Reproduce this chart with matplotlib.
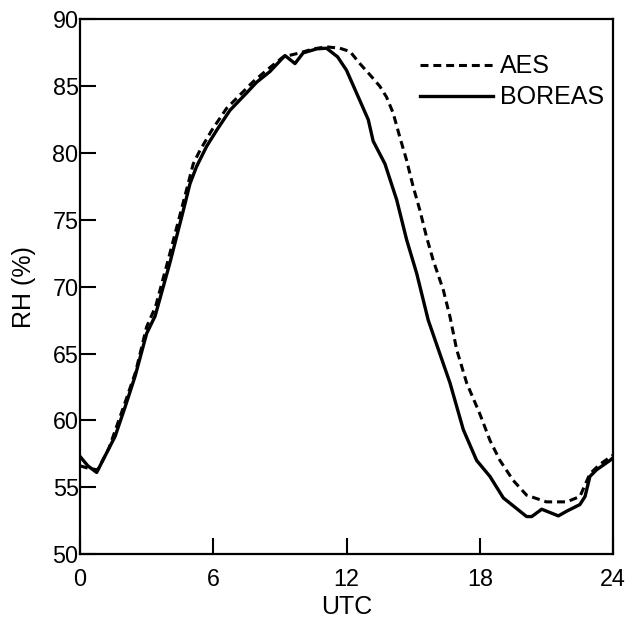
import matplotlib.pyplot as plt

plt.rcParams['font.family'] = ['Liberation Sans', 'DejaVu Sans']

# BOREAS (solid) - hours UTC and RH (%)
boreas_t = [0.0, 0.35, 0.75, 1.27, 1.58, 2.03, 2.48, 3.0, 3.38, 4.05, 4.65, 4.95,
            5.25, 5.7, 6.15, 6.75, 7.5, 7.95, 8.55, 9.23, 9.68, 10.05, 10.66, 11.1,
            11.6, 12.0, 12.53, 12.98, 13.2, 13.73, 14.26, 14.71, 15.16, 15.68,
            16.2, 16.66, 17.26, 17.86, 18.46, 19.06, 19.66, 20.11, 20.34, 20.79,
            21.54, 21.91, 22.51, 22.74, 22.96, 23.26, 23.86, 24.0]
boreas_rh = [57.3, 56.6, 56.1, 57.8, 58.8, 61.0, 63.3, 66.5, 67.8, 71.8, 75.7, 77.7,
             79.0, 80.5, 81.7, 83.2, 84.5, 85.3, 86.1, 87.3, 86.7, 87.5, 87.8, 87.85,
             87.2, 86.2, 84.2, 82.5, 80.9, 79.2, 76.5, 73.5, 71.0, 67.5,
             65.0, 62.8, 59.3, 57.0, 55.8, 54.2, 53.4, 52.8, 52.8, 53.35,
             52.85, 53.2, 53.7, 54.3, 55.8, 56.3, 57.0, 57.2]

# AES (dashed)
aes_t = [0.0, 0.4, 0.8, 1.3, 2.0, 2.5, 3.0, 3.4, 4.0, 4.6, 5.1, 5.4, 5.93, 6.6,
         7.2, 7.8, 8.4, 9.15, 9.9, 10.5, 11.1, 11.7, 12.16, 12.6, 13.06, 13.5,
         13.8, 14.1, 14.4, 14.7, 15.0, 15.3, 15.6, 15.9, 16.36, 16.66, 16.96,
         17.41, 18.0, 18.46, 18.91, 19.51, 20.11, 21.0, 21.91, 22.51, 22.96,
         23.4, 24.0]
aes_rh = [56.6, 56.4, 56.3, 57.9, 61.2, 63.6, 67.0, 68.5, 72.2, 76.0, 79.2, 80.2,
          81.7, 83.35, 84.35, 85.35, 86.2, 87.2, 87.5, 87.8, 87.95, 87.85, 87.6,
          86.7, 85.85, 85.0, 84.2, 83.0, 81.2, 79.5, 77.5, 75.75, 73.75, 72.0,
          69.75, 67.75, 65.3, 62.8, 60.5, 58.5, 57.0, 55.5, 54.4, 53.9, 53.9,
          54.3, 56.0, 56.7, 57.4]

x_ticks = [0, 6, 12, 18, 24]
y_ticks = [50, 55, 60, 65, 70, 75, 80, 85, 90]

fig = plt.figure(figsize=(6.33, 6.24), dpi=100)
ax = fig.add_axes([0.1264, 0.1122, 0.842, 0.8566])

ax.plot(aes_t, aes_rh, color='black', lw=2.2, ls=(0, (2.6, 1.6)), label='AES')
ax.plot(boreas_t, boreas_rh, color='black', lw=2.4, label='BOREAS')

ax.set_xlim(0, 24)
ax.set_ylim(50, 90)
ax.set_xticks(x_ticks)
ax.set_yticks(y_ticks)

for s in ax.spines.values():
    s.set_linewidth(1.6)

ax.tick_params(axis='both', direction='in', length=11.5, width=1.5,
               labelsize=16.8, top=False, right=False)
ax.tick_params(axis='y', pad=1)
ax.tick_params(axis='x', pad=10)

ax.set_xlabel('UTC', fontsize=18, labelpad=3)
ax.set_ylabel('RH (%)', fontsize=18, labelpad=12)

ax.legend(loc='upper right', bbox_to_anchor=(0.985, 0.937), frameon=False,
          fontsize=18, handlelength=2.95, handletextpad=0.25,
          labelspacing=0.28, borderaxespad=0, borderpad=0.05)

fig.savefig('out.png', dpi=100)
